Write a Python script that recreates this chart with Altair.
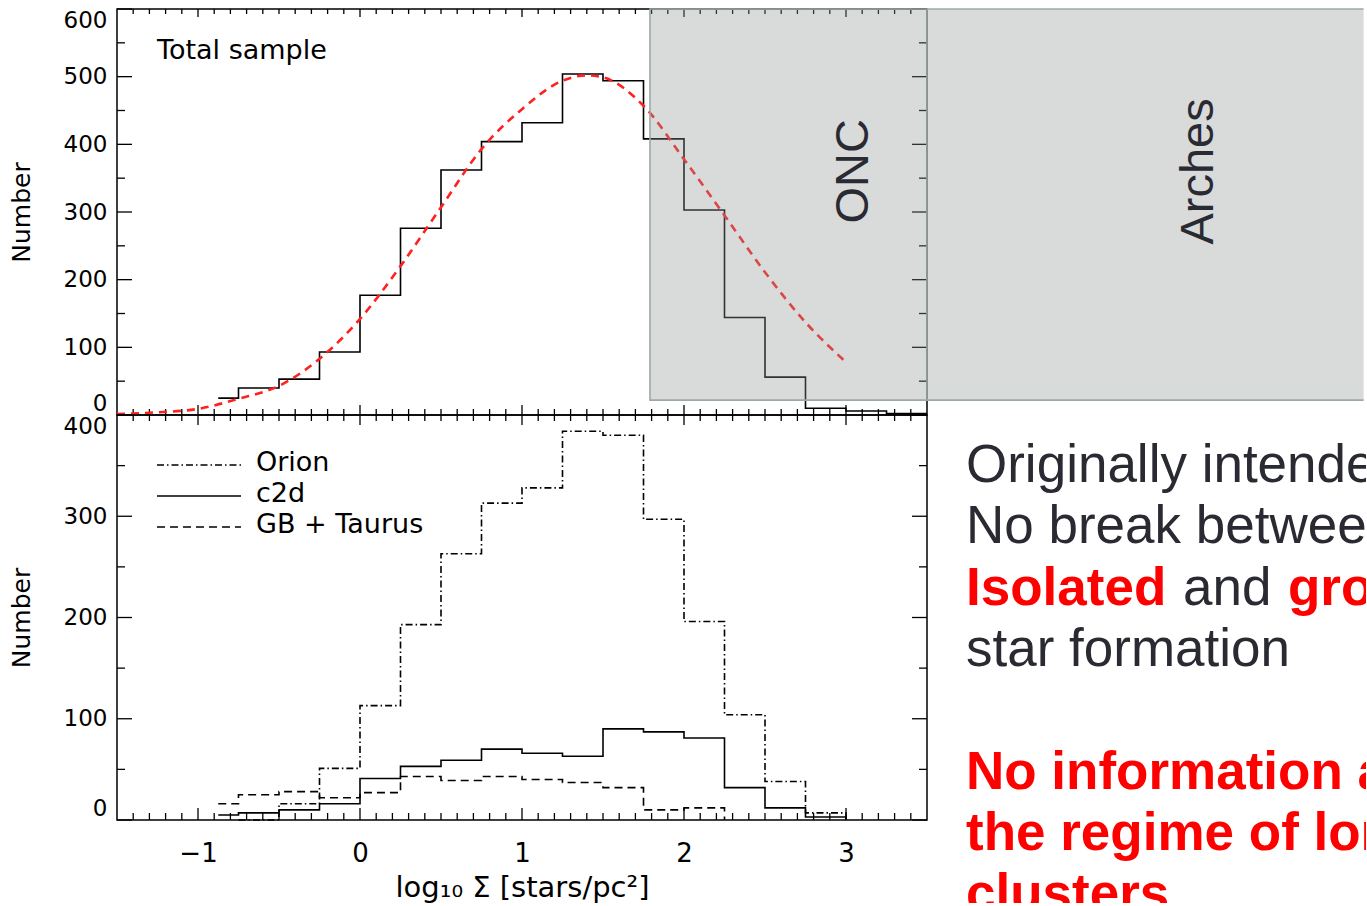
import altair as alt
import pandas as pd

# ---------------- data ----------------
X_DOMAIN = [-1.5, 3.5]

# Top panel: total sample histogram (left bin edges; last edge closes the last bin)
total_edges = [-0.875, -0.75, -0.5, -0.25, 0.0, 0.25, 0.5, 0.75, 1.0, 1.25, 1.5,
               1.75, 2.0, 2.25, 2.5, 2.75, 3.0, 3.25, 3.5]
total_counts = [25, 40, 53, 93, 177, 276, 362, 404, 432, 504, 494, 408, 303, 144,
                56, 10, 6, 2]

# Red dashed fitted curve
fit_x = [-1.5, -1.25, -1.0, -0.75, -0.5, -0.25, 0.0, 0.25, 0.5, 0.75, 1.0, 1.25,
         1.4, 1.5, 1.75, 2.0, 2.25, 2.5, 2.75, 3.0]
fit_y = [1.5, 4, 9, 24, 43, 83, 142, 220, 307, 393, 452, 494, 502, 499, 457, 378,
         295, 211, 137, 78]

# Bottom panel histograms
bot_edges = [-0.875, -0.75, -0.5, -0.25, 0.0, 0.25, 0.5, 0.75, 1.0, 1.25, 1.5,
             1.75, 2.0, 2.25, 2.5, 2.75, 3.0]
orion = [0, 0, 16, 51, 113, 193, 263, 313, 328, 384, 380, 297, 196, 104, 38, 7]
c2d = [5, 7, 10, 16, 41, 53, 59, 70, 66, 63, 90, 87, 81, 32, 12, 3]
gb_taurus = [16, 25, 28, 22, 27, 43, 39, 43, 40, 37, 32, 10, 12, 0, 0, 0]

series_names = ["Orion", "c2d", "GB + Taurus"]

# Tick values
top_y_major = [0, 100, 200, 300, 400, 500, 600]
top_y_minor = [50, 150, 250, 350, 450, 550]
bot_y_major = [0, 100, 200, 300, 400]
bot_y_minor = [50, 150, 250, 350]
x_major = [-1, 0, 1, 2, 3]
x_minor = [v for v in (round(-1.4 + 0.1 * i, 1) for i in range(49))
           if abs(v - round(v)) > 1e-6]

# Cluster regime boxes (x extent in log10 Sigma, y extent in counts)
box_names = ["ONC", "Arches"]
box_x = [1.79, 3.5]
box_x2 = [3.5, 6.195]
box_y = [22, 22]
box_y2 = [600, 600]
box_label_x = [3.05, 5.18]
box_label_y = [360, 360]

# Slide text
slide_lines = [
    [("Originally intended to", "dark")],
    [("No break between", "dark")],
    [("Isolated", "red"), ("and", "dark"), ("grouped", "red")],
    [("star formation", "dark")],
    [],
    [("No information about", "red")],
    [("the regime of long-lived", "red")],
    [("clusters", "red")],
]

# ---------------- layout / styling ----------------
W = 810
H_TOP = 406
H_BOT = 405
GAP = 20          # between bottom panel and the slide text area
RW = 419
RH = 488
DARK = "#2a2a33"
RED = "#ff0000"
LINE_W = 1.6
AX_FONT = "DejaVu Sans"
IDL_FONT = "DejaVu Sans"
SLIDE_FONT = "Liberation Sans"
BOX_FILL = "#8f9393"
BOX_OPACITY = 0.34
BOX_STROKE = "#9aaba1"

xscale = alt.Scale(domain=X_DOMAIN, nice=False, zero=False)
yscale_top = alt.Scale(domain=[0, 600], nice=False, zero=False)
yscale_bot = alt.Scale(domain=[0, 400], nice=False, zero=False)


def yaxis(vals, h):
    return alt.Axis(values=vals, ticks=False, domain=False, grid=False,
                    labelFlush=True, labelPadding=10, labelFont=AX_FONT,
                    labelFontSize=23, labelColor="black", title="Number",
                    titleFont=IDL_FONT, titleFontSize=25, titleFontWeight="normal",
                    titleColor="black", titleX=-96, titleY=h / 2,
                    titleAngle=270, titleAlign="center", titleBaseline="middle")


yaxis_top = yaxis(top_y_major, H_TOP)
yaxis_bot = yaxis(bot_y_major, H_BOT)
xaxis_bot = alt.Axis(values=x_major, format="d", ticks=False, domain=False, grid=False,
                     labelPadding=20, labelFont=IDL_FONT, labelFontSize=26,
                     labelColor="black", title="log₁₀ Σ [stars/pc²]",
                     titleFont=IDL_FONT, titleFontSize=29, titleFontWeight="normal",
                     titleColor="black", titlePadding=7)


def X(axis):
    return alt.X("x:Q", scale=xscale, axis=axis)


def Y(scale, axis):
    return alt.Y("y:Q", scale=scale, axis=axis)


def step_df(edges, counts, close_to_zero):
    ys = list(counts) + ([0] if close_to_zero else [counts[-1]])
    return pd.DataFrame({"x": list(edges), "y": ys})


def one(text):
    return pd.DataFrame({"t": [text]})


def tick_layers(scale, yax, xax, H, ymaj, ymin, top_len, bot_len):
    layers = []
    for vals, ln in ((ymaj, 15), (ymin, 8)):
        df = pd.DataFrame({"y": vals})
        layers.append(alt.Chart(df).mark_rule(color="black", strokeWidth=1.3).encode(
            y=Y(scale, yax), x=alt.value(0), x2=alt.value(ln)))
        layers.append(alt.Chart(df).mark_rule(color="black", strokeWidth=1.3).encode(
            y=Y(scale, yax), x=alt.value(W), x2=alt.value(W - ln)))
    for vals, tl, bl in ((x_major, top_len[0], bot_len[0]), (x_minor, top_len[1], bot_len[1])):
        df = pd.DataFrame({"x": vals})
        layers.append(alt.Chart(df).mark_rule(color="black", strokeWidth=1.3).encode(
            x=X(xax), y=alt.value(0), y2=alt.value(tl)))
        layers.append(alt.Chart(df).mark_rule(color="black", strokeWidth=1.3).encode(
            x=X(xax), y=alt.value(H), y2=alt.value(H - bl)))
    return layers


# ---------------- top panel ----------------
top_layers = tick_layers(yscale_top, yaxis_top, None, H_TOP, top_y_major, top_y_minor,
                         (8, 5), (10, 6))

top_layers.append(
    alt.Chart(step_df(total_edges, total_counts, False)).mark_line(
        interpolate="step-after", color="black", strokeWidth=LINE_W).encode(
        x=X(None), y=Y(yscale_top, yaxis_top)))

top_layers.append(
    alt.Chart(pd.DataFrame({"x": fit_x, "y": fit_y})).mark_line(
        interpolate="monotone", color="#ff2020", strokeWidth=2.6,
        strokeDash=[8, 6]).encode(x=X(None), y=Y(yscale_top, yaxis_top)))

box_df = pd.DataFrame({"name": box_names, "x": box_x, "x2": box_x2, "y": box_y,
                       "y2": box_y2})
onc_df = box_df[box_df["name"] == "ONC"]
arch_df = box_df[box_df["name"] == "Arches"]

# ONC box: outlined rectangle
top_layers.append(
    alt.Chart(onc_df).mark_rect(fill=BOX_FILL, fillOpacity=BOX_OPACITY, stroke=BOX_STROKE,
                                strokeWidth=1.6).encode(
        x=X(None), x2="x2:Q", y=Y(yscale_top, yaxis_top), y2="y2:Q"))
# Arches box: runs off the right edge of the slide (fill + top/bottom edges)
top_layers.append(
    alt.Chart(arch_df).mark_rect(fill=BOX_FILL, fillOpacity=BOX_OPACITY).encode(
        x=X(None), x2="x2:Q", y=Y(yscale_top, yaxis_top), y2="y2:Q"))
for edge in ("y", "y2"):
    top_layers.append(
        alt.Chart(arch_df).mark_rule(color=BOX_STROKE, strokeWidth=1.6).encode(
            x=X(None), x2="x2:Q", y=alt.Y(f"{edge}:Q", scale=yscale_top, axis=yaxis_top)))

top_layers.append(
    alt.Chart(pd.DataFrame({"name": box_names, "x": box_label_x, "y": box_label_y}))
    .mark_text(font=SLIDE_FONT, fontSize=47, color=DARK, angle=270,
               align="center", baseline="middle").encode(
        x=X(None), y=Y(yscale_top, yaxis_top), text="name:N"))

top_layers.append(
    alt.Chart(one("Total sample")).mark_text(
        font=IDL_FONT, fontSize=27, color="black", align="left",
        baseline="middle").encode(text="t:N", x=alt.value(40), y=alt.value(42)))

top = alt.layer(*top_layers).properties(width=W, height=H_TOP)

# ---------------- bottom panel ----------------
bot_layers = tick_layers(yscale_bot, yaxis_bot, xaxis_bot, H_BOT, bot_y_major, bot_y_minor,
                         (10, 6), (12, 7))

dashes = {"Orion": [7, 3, 1.5, 3], "c2d": None, "GB + Taurus": [8, 5]}

orion_df = step_df([-0.75] + bot_edges[2:], orion[1:], True)
c2d_df = step_df(bot_edges, c2d, True)
gb_df = step_df(bot_edges[:14], gb_taurus[:13], True)

for name, df in (("Orion", orion_df), ("c2d", c2d_df), ("GB + Taurus", gb_df)):
    mk = dict(interpolate="step-after", color="black", strokeWidth=LINE_W)
    if dashes[name]:
        mk["strokeDash"] = dashes[name]
    bot_layers.append(alt.Chart(df).mark_line(**mk).encode(
        x=X(xaxis_bot), y=Y(yscale_bot, yaxis_bot)))

# legend (drawn inside the panel, top-left)
for i, name in enumerate(series_names):
    ry = 50 + 31 * i
    mk = dict(color="black", strokeWidth=LINE_W)
    if dashes[name]:
        mk["strokeDash"] = dashes[name]
    bot_layers.append(alt.Chart(one(name)).mark_rule(**mk).encode(
        x=alt.value(40), x2=alt.value(124), y=alt.value(ry)))
    bot_layers.append(alt.Chart(one(name)).mark_text(
        font=IDL_FONT, fontSize=27, color="black", align="left",
        baseline="middle").encode(text="t:N", x=alt.value(139), y=alt.value(ry - 2)))

bottom = alt.layer(*bot_layers).properties(width=W, height=H_BOT)

# ---------------- slide text area (right of the lower panel) ----------------
text_layers = []
word_x = [19, 236, 341]
for li, line in enumerate(slide_lines):
    base = 67 + 61.3 * li
    for wi, (txt, kind) in enumerate(line):
        text_layers.append(alt.Chart(one(txt)).mark_text(
            font=SLIDE_FONT, fontSize=53, color=(RED if kind == "red" else DARK),
            fontWeight=("bold" if kind == "red" else "normal"), align="left",
            baseline="alphabetic", clip=True).encode(
            text="t:N", x=alt.value(word_x[wi]), y=alt.value(base)))

slide = alt.layer(*text_layers).properties(
    width=RW, height=RH, view=alt.ViewBackground(stroke="transparent"))

bottom_row = alt.hconcat(bottom, slide, spacing=GAP, bounds="flush")

chart = alt.vconcat(top, bottom_row, spacing=0, bounds="flush").properties(
    padding={"left": 8, "top": 7, "right": 0, "bottom": 0},
    background="white",
).configure_view(stroke="black", strokeWidth=1.5)

chart.save("out.html", embed_options={"renderer": "svg", "actions": False})
